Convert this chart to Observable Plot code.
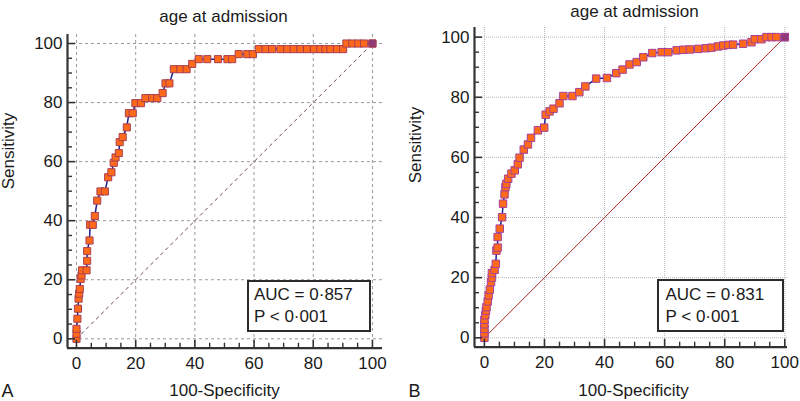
<!DOCTYPE html>
<html><head><meta charset="utf-8">
<script src="https://cdn.jsdelivr.net/npm/d3@7"></script>
<script src="https://cdn.jsdelivr.net/npm/@observablehq/plot@0.6"></script>
<style>
body{margin:0;background:#fff;}
#wrap{position:relative;width:800px;height:401px;overflow:hidden;font-family:"Liberation Sans",Arial,sans-serif;background:#fff;}
.panel{position:absolute;top:0;width:400px;height:401px;}
.box{position:absolute;box-sizing:border-box;border:2px solid #2b2b2b;background:#fff;font-size:17px;line-height:22px;color:#1a1a1a;white-space:nowrap;}
</style></head><body><div id="wrap"></div>
<script>
const title = "age at admission";
const xLabel = "100-Specificity";
const yLabel = "Sensitivity";
const panelLetters = ["A", "B"];
const majorTicks = [0, 20, 40, 60, 80, 100];
const minorTicks = [5, 10, 15, 25, 30, 35, 45, 50, 55, 65, 70, 75, 85, 90, 95];
const diag = [0, 100];
const aucTextA = ["AUC = 0·857", "P < 0·001"];
const aucTextB = ["AUC = 0·831", "P < 0·001"];

// Panel A: 100-Specificity (x) and Sensitivity (y)
const fprA = [0,0,0,0.3,0.5,0.7,0.9,1.1,1.4,1.7,1.9,3.4,3.6,3.6,4.4,4.6,5.5,6.2,7.0,8.1,9.6,10.7,11.8,12.6,13.2,14.3,14.6,15.6,17.0,17.7,19.0,19.9,21.8,23.3,25.6,27.3,29.1,30.1,31.4,32.9,35.1,37.2,39.1,41.3,44.2,47.8,51.0,52.6,54.8,57.7,59.6,61.6,63.9,66.1,68.9,71.2,73.4,75.7,77.9,80.2,82.4,84.1,85.8,88.0,90.1,91.2,93.2,95.2,97.2,100];
const tprA = [0,1.7,3.4,6.8,10.2,13.6,15.3,16.9,20.3,21.5,23.2,23.2,26.4,29.7,33.3,38.6,38.6,41.6,46.8,49.9,49.9,54.7,56.4,59.6,61.4,62.9,66.6,68.3,71.6,76.4,76.4,79.8,79.8,81.5,81.5,81.5,83.2,86.5,86.5,91.3,91.3,91.3,93.1,94.7,94.7,94.7,94.7,94.7,96.4,96.4,96.4,98.1,98.1,98.1,98.1,98.1,98.1,98.1,98.1,98.1,98.1,98.1,98.1,98.1,98.1,100,100,100,100,100];

// Panel B
const fprB = [0,0,0,0,0,0.3,0.5,0.7,1.1,1.4,1.8,2.2,2.5,2.5,3.4,3.8,4.0,4.4,4.4,5.1,5.9,6.2,6.7,7.0,7.3,7.9,9.0,10.1,11.1,11.7,13.1,14.5,15.5,17.8,19.9,20.4,21.7,23.0,25.0,26.3,29.3,31.6,33.6,37.2,40.8,43.9,46.0,48.3,50.7,52.9,55.9,59.0,61.2,64.0,66.2,68.4,71.2,73.8,75.6,77.8,79.5,81.2,82.8,86.1,88.9,90.0,92.2,93.9,95.6,97.2,100];
const tprB = [0,1.5,3.0,4.5,6.0,7.5,9.0,10.2,12.1,14.1,16.0,18.5,20.0,21.5,22.6,24.6,29.0,30.0,33.5,36.3,40.1,44.6,47.7,50.1,51.2,52.9,54.6,55.7,57.7,59.9,62.6,64.3,66.5,69.0,69.9,74.2,75.3,76.2,78.0,80.4,80.4,81.7,83.6,86.2,86.4,88.0,89.2,90.9,91.7,93.3,94.7,95.0,95.0,95.6,95.8,95.9,96.1,96.3,96.5,96.9,97.2,97.4,97.5,97.8,98.3,99.3,99.3,100,100,100,100];

const font = "'Liberation Sans', Arial, sans-serif";

function panel(c) {
  const W = 400, H = 401;
  const data = c.fpr.map((x, i) => ({x, y: c.tpr[i]}));
  const last = [data[data.length - 1]];
  const fh = H - c.mt - c.mb, fw = W - c.ml - c.mr;
  return Plot.plot({
    width: W, height: H,
    marginLeft: c.ml, marginRight: c.mr, marginTop: c.mt, marginBottom: c.mb,
    x: {domain: c.xd}, y: {domain: c.yd},
    style: {fontFamily: font, fontSize: "17px", color: "#1a1a1a", background: "transparent", overflow: "visible"},
    marks: [
      Plot.gridX(majorTicks, {stroke: c.gridColor, strokeOpacity: 1, strokeWidth: 1, strokeDasharray: c.gridDash}),
      Plot.gridY(majorTicks, {stroke: c.gridColor, strokeOpacity: 1, strokeWidth: 1, strokeDasharray: c.gridDash}),
      Plot.line(diag, {x: d => d, y: d => d, stroke: c.diagColor, strokeWidth: 1, strokeDasharray: c.diagDash}),
      Plot.line(data, {x: "x", y: "y", stroke: "#1f1f8c", strokeWidth: 1.5}),
      Plot.dot(data, {x: "x", y: "y", symbol: "square", r: c.r, fill: "#ff6a1a", stroke: c.dotStroke, strokeWidth: c.dotSW}),
      Plot.dot(last, {x: "x", y: "y", symbol: "square", r: c.r, fill: "#8e3a78", stroke: c.dotStroke, strokeWidth: c.dotSW}),
      Plot.ruleX(majorTicks, {x: d => d, insetTop: fh - 8, stroke: "#333", strokeWidth: 1.6}),
      Plot.ruleX(minorTicks, {x: d => d, insetTop: fh - 5, stroke: "#333", strokeWidth: 1.4}),
      Plot.ruleY(majorTicks, {y: d => d, insetRight: fw - 8, stroke: "#333", strokeWidth: 1.6}),
      Plot.ruleY(minorTicks, {y: d => d, insetRight: fw - 5, stroke: "#333", strokeWidth: 1.4}),
      Plot.ruleX([c.xd[0]], {stroke: "#333", strokeWidth: 2.2}),
      Plot.ruleY([c.yd[0]], {stroke: "#333", strokeWidth: 2.2}),
      Plot.axisX(majorTicks, {tickSize: 0, tickPadding: c.xPad, label: null, fill: "#1a1a1a", fontSize: 17}),
      Plot.axisY(majorTicks, {tickSize: 0, tickPadding: c.yPad, label: null, fill: "#1a1a1a", fontSize: 17}),
      Plot.text([title], {frameAnchor: "top", lineAnchor: "bottom", dx: c.tdx, dy: c.tdy, fontSize: 17, fill: "#1a1a1a"}),
      Plot.text([xLabel], {frameAnchor: "bottom", lineAnchor: "bottom", dx: c.xldx, dy: c.xldy, fontSize: 17, fill: "#1a1a1a"}),
      Plot.text([yLabel], {frameAnchor: "left", rotate: -90, dx: c.yldx, dy: c.yldy, fontSize: 17, fill: "#1a1a1a"}),
      Plot.text([c.letter], {frameAnchor: "bottom-left", textAnchor: "start", lineAnchor: "bottom", dx: c.ldx, dy: c.ldy, fontSize: 18, fill: "#1a1a1a"})
    ]
  });
}

const wrap = document.getElementById("wrap");

const cfgs = [
  {fpr: fprA, tpr: tprA, letter: panelLetters[0], left: 0,
   ml: 67, mr: 18, mt: 34, mb: 53.3, xd: [-3.04, 103.4], yd: [-3.18, 103.05],
   gridColor: "#9a9a9a", gridDash: "3,3", diagColor: "#6e4a62", diagDash: "3,4",
   r: 4, dotStroke: "#a83e52", dotSW: 1,
   xPad: 9, yPad: 5, tdx: -1.5, tdy: -13, xldx: -0.5, xldy: 47.3, yldx: -58.5, yldy: -2, ldx: -66, ldy: 49},
  {fpr: fprB, tpr: tprB, letter: panelLetters[1], left: 400,
   ml: 74, mr: 13, mt: 27, mb: 54.3, xd: [-3.3, 100.9], yd: [-3.13, 103.2],
   gridColor: "#b5b5b5", gridDash: "1,1", diagColor: "#a82a2a", diagDash: null,
   r: 4.2, dotStroke: "#a4409a", dotSW: 1,
   xPad: 8.5, yPad: 5, tdx: 3.5, tdy: -11, xldx: 2.5, xldy: 48.5, yldx: -59, yldy: -4, ldx: -66, ldy: 50}
];

cfgs.forEach(c => {
  const div = document.createElement("div");
  div.className = "panel";
  div.style.left = c.left + "px";
  div.appendChild(panel(c));
  wrap.appendChild(div);
});

function box(lines, left, top, w, h, pl, pt) {
  const b = document.createElement("div");
  b.className = "box";
  Object.assign(b.style, {left: left + "px", top: top + "px", width: w + "px", height: h + "px", paddingLeft: pl + "px", paddingTop: pt + "px"});
  lines.forEach(t => { const d = document.createElement("div"); d.textContent = t; b.appendChild(d); });
  wrap.appendChild(b);
}
box(aucTextA, 247, 280, 124, 52, 5, 1.8);
box(aucTextB, 657, 279, 127, 53, 6.5, 2.8);
</script></body></html>
